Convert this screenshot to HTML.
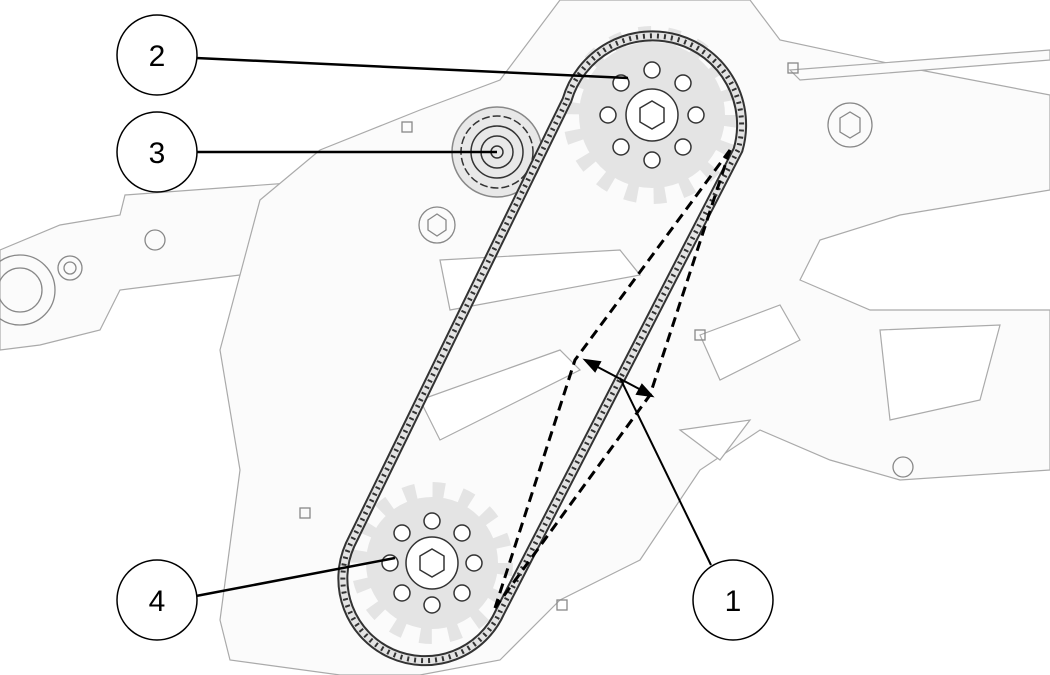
<!DOCTYPE html>
<html><head><meta charset="utf-8"><style>
html,body{margin:0;padding:0;background:#fff;}
svg{display:block}
text{font-family:"Liberation Sans",sans-serif;font-size:30px;fill:#000}
</style></head><body>
<svg width="1050" height="675" viewBox="0 0 1050 675" xmlns="http://www.w3.org/2000/svg">
<g fill="#fbfbfb" stroke="#aaa" stroke-width="1.2">
<path d="M0 250 L60 225 L120 215 L125 195 L330 180 L340 260 L240 275 L120 290 L100 330 L40 345 L0 350 Z"/>
<path d="M560 0 L750 0 L780 40 L920 70 L1050 95 L1050 190 L900 215 L820 240 L800 280 L870 310 L1050 310 L1050 470 L900 480 L830 460 L760 430 L700 470 L640 560 L560 600 L500 660 L420 675 L340 675 L230 660 L220 620 L240 470 L220 350 L260 200 L320 150 L420 110 L500 80 Z"/>
<path d="M790 70 L1050 50 L1050 60 L800 80 Z"/>
<path d="M700 335 L780 305 L800 340 L720 380 Z" fill="#fff"/>
<path d="M880 330 L1000 325 L980 400 L890 420 Z" fill="#fff"/>
<path d="M680 430 L750 420 L720 460 Z" fill="#fff"/>
<path d="M440 260 L620 250 L640 275 L450 310 Z" fill="#fff"/>
<path d="M420 400 L560 350 L580 370 L440 440 Z" fill="#fff"/>
</g>
<g fill="none" stroke="#888" stroke-width="1.3">
<circle cx="20" cy="290" r="35"/><circle cx="20" cy="290" r="22"/>
<circle cx="70" cy="268" r="12"/><circle cx="70" cy="268" r="6"/>
<circle cx="155" cy="240" r="10"/>
<circle cx="850" cy="125" r="22"/><polygon points="840,118 850,112 860,118 860,132 850,138 840,132"/>
<circle cx="437" cy="225" r="18"/><polygon points="428,220 437,214 446,220 446,230 437,236 428,230"/>
<circle cx="903" cy="467" r="10"/>
<rect x="402" y="122" width="10" height="10"/><rect x="788" y="63" width="10" height="10"/>
<rect x="300" y="508" width="10" height="10"/><rect x="557" y="600" width="10" height="10"/>
<rect x="695" y="330" width="10" height="10"/>
</g>
<g fill="none" stroke="#333" stroke-width="1.5">
<circle cx="497" cy="152" r="45" fill="#e8e8e8" stroke="#888"/>
<circle cx="497" cy="152" r="36" stroke-dasharray="8 3"/>
<circle cx="497" cy="152" r="26"/>
<circle cx="497" cy="152" r="16"/>
<circle cx="497" cy="152" r="6"/>
</g>
<circle cx="652" cy="115" r="80" fill="none" stroke="#e4e4e4" stroke-width="18" stroke-dasharray="12 16"/>
<circle cx="652" cy="115" r="73" fill="#e4e4e4" stroke="none"/>
<circle cx="432" cy="563" r="73" fill="none" stroke="#e4e4e4" stroke-width="16" stroke-dasharray="12 16.7"/>
<circle cx="432" cy="563" r="66" fill="#e4e4e4" stroke="none"/>
<g fill="#fff" stroke="#333" stroke-width="1.5">
<circle cx="652" cy="115" r="26"/><polygon points="640,108 652,101 664,108 664,122 652,129 640,122"/>
<circle cx="432" cy="563" r="26"/><polygon points="420,556 432,549 444,556 444,570 432,577 420,570"/>
<circle cx="652" cy="70" r="8"/><circle cx="683" cy="83" r="8"/><circle cx="696" cy="115" r="8"/><circle cx="683" cy="147" r="8"/><circle cx="652" cy="160" r="8"/><circle cx="621" cy="147" r="8"/><circle cx="608" cy="115" r="8"/><circle cx="621" cy="83" r="8"/>
<circle cx="432" cy="521" r="8"/><circle cx="462" cy="533" r="8"/><circle cx="474" cy="563" r="8"/><circle cx="462" cy="593" r="8"/><circle cx="432" cy="605" r="8"/><circle cx="402" cy="593" r="8"/><circle cx="390" cy="563" r="8"/><circle cx="402" cy="533" r="8"/>
</g>
<path d="M567 100 A86 86 0 1 1 738 150 L500 612 A80 80 0 1 1 350 545 Z" fill="none" stroke="#333" stroke-width="11"/>
<path d="M567 100 A86 86 0 1 1 738 150 L500 612 A80 80 0 1 1 350 545 Z" fill="none" stroke="#e4e4e4" stroke-width="7"/>
<path d="M567 100 A86 86 0 1 1 738 150 L500 612 A80 80 0 1 1 350 545 Z" fill="none" stroke="#333" stroke-width="5" stroke-dasharray="2 5"/>
<g fill="none" stroke="#000" stroke-width="3" stroke-dasharray="10 6">
<path d="M730 150 L575 360 L495 608"/>
<path d="M730 150 L650 395 L495 608"/>
</g>
<g stroke="#000" stroke-width="2" fill="#000">
<line x1="592" y1="364" x2="645" y2="392"/>
<polygon points="585,360 600,362 595,371"/>
<polygon points="652,396 637,394 642,385"/>
<line x1="620" y1="378" x2="711" y2="565"/>
</g>
<g stroke="#000" stroke-width="2.5">
<line x1="196" y1="58" x2="628" y2="78"/>
<line x1="196" y1="152" x2="497" y2="152"/>
<line x1="196" y1="596" x2="395" y2="558"/>
</g>
<g fill="#fff" stroke="#000" stroke-width="1.5">
<circle cx="157" cy="55" r="40"/><circle cx="157" cy="152" r="40"/>
<circle cx="157" cy="600" r="40"/><circle cx="733" cy="600" r="40"/>
</g>
<text x="157" y="66" text-anchor="middle">2</text>
<text x="157" y="163" text-anchor="middle">3</text>
<text x="157" y="611" text-anchor="middle">4</text>
<text x="733" y="611" text-anchor="middle">1</text>
</svg>
</body></html>
